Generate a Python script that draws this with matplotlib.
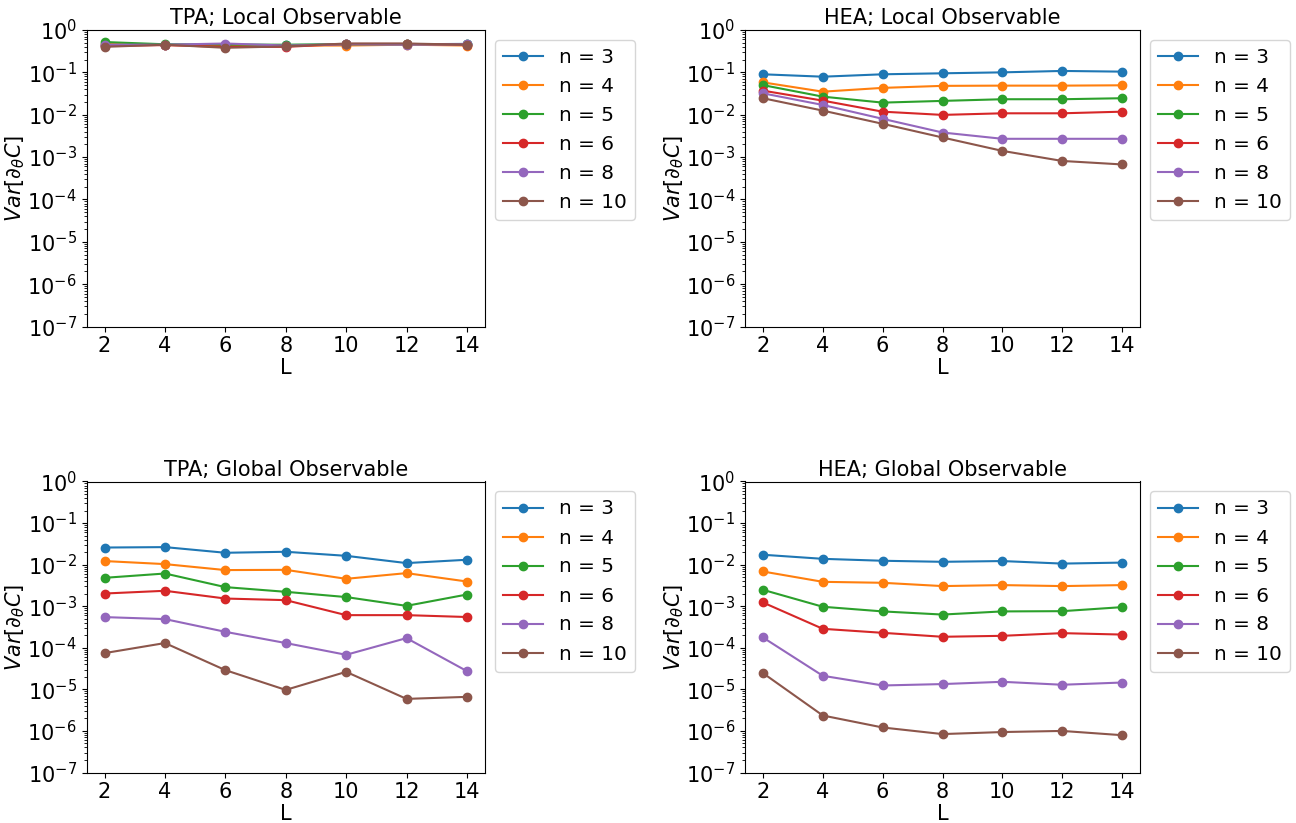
import matplotlib
matplotlib.use("Agg")
import matplotlib.pyplot as plt
from matplotlib.ticker import FixedLocator, NullFormatter

L = [2, 4, 6, 8, 10, 12, 14]
n_labels = ["n = 3", "n = 4", "n = 5", "n = 6", "n = 8", "n = 10"]
y_decades = list(range(-7, 1))

tpa_local = [
    [0.45, 0.45, 0.45, 0.44, 0.46, 0.46, 0.47],
    [0.47, 0.44, 0.44, 0.43, 0.43, 0.45, 0.43],
    [0.52, 0.46, 0.45, 0.45, 0.46, 0.46, 0.46],
    [0.42, 0.44, 0.40, 0.40, 0.47, 0.47, 0.45],
    [0.45, 0.45, 0.48, 0.43, 0.46, 0.45, 0.46],
    [0.40, 0.45, 0.38, 0.41, 0.48, 0.48, 0.45],
]

hea_local = [
    [0.090, 0.079, 0.090, 0.095, 0.100, 0.108, 0.104],
    [0.058, 0.035, 0.043, 0.048, 0.0486, 0.0486, 0.0495],
    [0.050, 0.0267, 0.0193, 0.0212, 0.0232, 0.0232, 0.0245],
    [0.037, 0.0215, 0.0118, 0.0099, 0.0108, 0.0108, 0.0118],
    [0.032, 0.017, 0.008, 0.0038, 0.0027, 0.0027, 0.0027],
    [0.0245, 0.0125, 0.0061, 0.0029, 0.0014, 0.00081, 0.00067],
]

tpa_global = [
    [0.0258, 0.0264, 0.0193, 0.0204, 0.0163, 0.0109, 0.0131],
    [0.0122, 0.0103, 0.0074, 0.0075, 0.00456, 0.00625, 0.00393],
    [0.00482, 0.00612, 0.00288, 0.00222, 0.00166, 0.00102, 0.00191],
    [0.00202, 0.00235, 0.00153, 0.0014, 0.00061, 0.00061, 0.00055],
    [0.000547, 0.00049, 0.000242, 0.00013, 0.0000678, 0.000171, 0.0000275],
    [0.0000745, 0.00013, 0.000029, 0.0000097, 0.0000264, 0.0000059, 0.0000066],
]

hea_global = [
    [0.0173, 0.0138, 0.0124, 0.0117, 0.0122, 0.0106, 0.0112],
    [0.00684, 0.00386, 0.00366, 0.00305, 0.00322, 0.00305, 0.00322],
    [0.00248, 0.00097, 0.00075, 0.00063, 0.00075, 0.00076, 0.00095],
    [0.00123, 0.000286, 0.000229, 0.000184, 0.000194, 0.000225, 0.000208],
    [0.000177, 0.0000212, 0.0000124, 0.0000134, 0.0000152, 0.0000129, 0.0000146],
    [0.0000246, 0.00000235, 0.00000121, 0.00000084, 0.00000094, 0.0000010, 0.00000079],
]

panels = [
    ("TPA; Local Observable", tpa_local),
    ("HEA; Local Observable", hea_local),
    ("TPA; Global Observable", tpa_global),
    ("HEA; Global Observable", hea_global),
]

FS = 15
plt.rcParams["font.size"] = FS
fig = plt.figure(figsize=(12.96, 8.23), dpi=100)
W, H = 1296.0, 823.0
def box(x0, y0, x1, y1):
    return [x0 / W, 1 - y1 / H, (x1 - x0) / W, (y1 - y0) / H]

positions = [
    box(86.5, 30, 485, 326.5),
    box(745, 30, 1140, 326.5),
    box(86.5, 481.5, 485, 772.5),
    box(745, 481.5, 1140, 772.5),
]

major = [10.0 ** k for k in y_decades]
minor = [m * 10.0 ** k for k in y_decades[:-1] for m in range(2, 10)]

for pos, (title, data) in zip(positions, panels):
    ax = fig.add_axes(pos)
    for lab, vals in zip(n_labels, data):
        ax.plot(L, vals, "o-", label=lab)
    ax.set_yscale("log")
    ax.set_ylim(1e-7, 1)
    ax.yaxis.set_major_locator(FixedLocator(major))
    ax.yaxis.set_minor_locator(FixedLocator(minor))
    ax.yaxis.set_minor_formatter(NullFormatter())
    ax.set_xticks(L)
    ax.set_xlim(1.4, 14.6)
    ax.set_title(title, fontsize=FS, pad=4)
    ax.set_xlabel("L", fontsize=FS, labelpad=1)
    ax.set_ylabel(r"$Var[\partial_{\theta}C]$", fontsize=FS, labelpad=0)
    ax.tick_params(labelsize=FS)
    ax.legend(loc="upper left", bbox_to_anchor=(1, 1), fontsize=14.4)

fig.savefig("out.png", dpi=100)
